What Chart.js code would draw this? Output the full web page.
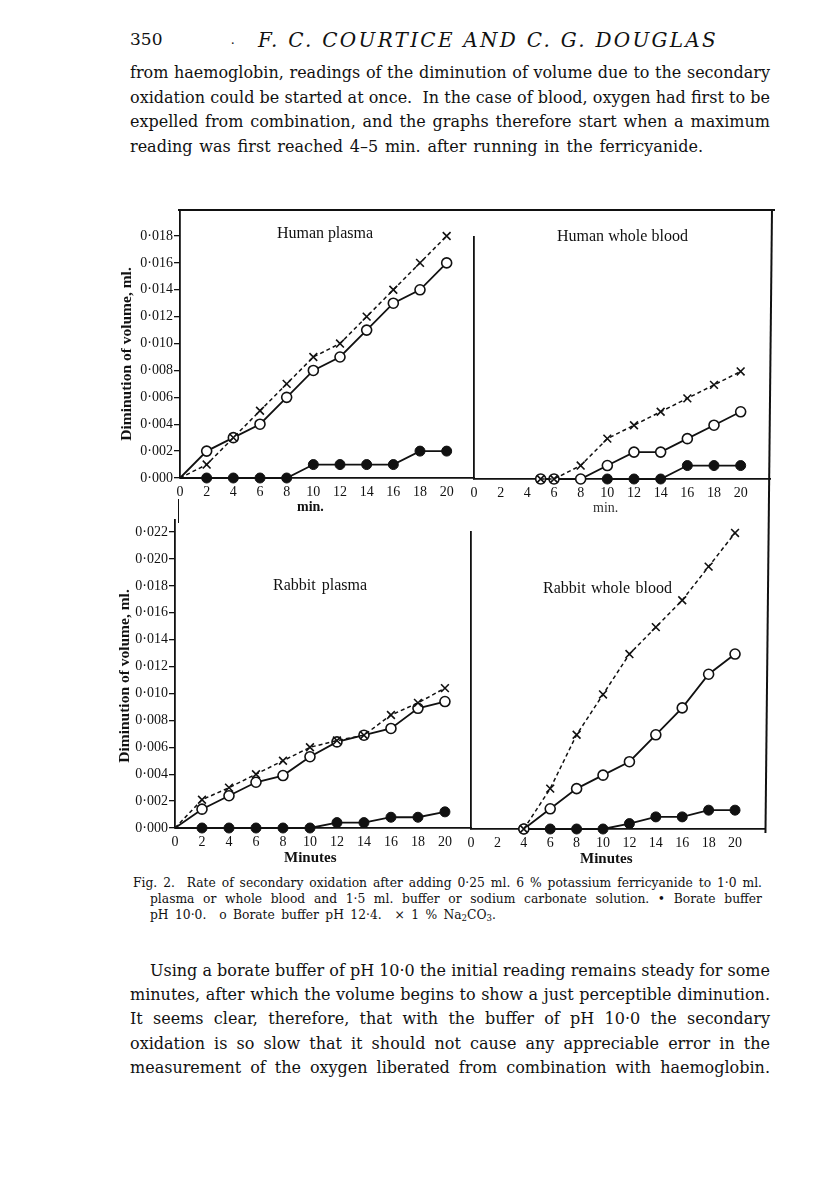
<!DOCTYPE html>
<html><head><meta charset="utf-8">
<script src="https://cdn.jsdelivr.net/npm/chart.js@4.4.0/dist/chart.umd.min.js"></script>
<style>
html,body{margin:0;padding:0;background:#fff}
body{width:816px;height:1199px;position:relative;overflow:hidden;font-family:"Liberation Serif","Times New Roman",serif;color:#111}
.t{position:absolute;white-space:nowrap;line-height:1}
.p{font-family:"DejaVu Serif",serif;font-size:16px}
.c{font-family:"DejaVu Serif",serif;font-size:12.3px}
.pt{font-size:16px}
.rot{position:absolute;white-space:nowrap;line-height:1;font-weight:bold;font-size:15.5px;transform:translate(-50%,-50%) rotate(-90deg)}
.ln{position:absolute;background:#111}
canvas{position:absolute}
sub{font-size:70%;line-height:0;vertical-align:-0.25em}
</style></head><body>

<div class="t" style="left:130px;top:31px;font-size:17px;font-family:'DejaVu Serif',serif">350</div>
<div class="t" style="left:231px;top:33px;font-size:14px">.</div>
<div class="t" data-w="460" data-fit="ls" style="left:258px;top:30px;font-size:20px;font-style:italic;font-family:'DejaVu Serif',serif">F. C. COURTICE AND C. G. DOUGLAS</div>

<div class="t p" data-w="640" style="left:130px;top:65px">from haemoglobin, readings of the diminution of volume due to the secondary</div>
<div class="t p" data-w="640" style="left:130px;top:90px">oxidation could be started at once.&nbsp; In the case of blood, oxygen had first to be</div>
<div class="t p" data-w="640" style="left:130px;top:114px">expelled from combination, and the graphs therefore start when a maximum</div>
<div class="t p" data-w="573" style="left:130px;top:139px">reading was first reached 4–5 min. after running in the ferricyanide.</div>

<!-- figure frame -->
<div class="ln" style="left:178px;top:209px;width:597px;height:1.5px"></div>
<div class="ln" style="left:771px;top:209px;width:1.6px;height:624px;transform-origin:top left;transform:rotate(0.6deg)"></div>
<div class="ln" style="left:177.5px;top:499px;width:1.6px;height:24px"></div>

<canvas id="hp"></canvas>
<canvas id="hwb"></canvas>
<canvas id="rp"></canvas>
<canvas id="rwb"></canvas>

<div class="rot" style="left:126px;top:354px">Diminution of volume, ml.</div>
<div class="rot" style="left:124px;top:676px">Diminution of volume, ml.</div>

<div class="t pt" data-w="96" style="left:277px;top:225px">Human plasma</div>
<div class="t pt" data-w="131" style="left:557px;top:228px">Human whole blood</div>
<div class="t pt" data-w="94" style="left:273px;top:577px">Rabbit plasma</div>
<div class="t pt" data-w="129" style="left:543px;top:580px">Rabbit whole blood</div>

<div class="t" style="left:297px;top:500px;font-size:14px;font-weight:bold">min.</div>
<div class="t" style="left:593px;top:501px;font-size:14px;color:#333">min.</div>
<div class="t" style="left:284px;top:850px;font-size:15px;font-weight:bold">Minutes</div>
<div class="t" style="left:580px;top:851px;font-size:15px;font-weight:bold">Minutes</div>

<div class="t c" data-w="629" style="left:133px;top:877px">Fig. 2.&nbsp; Rate of secondary oxidation after adding 0·25 ml. 6 % potassium ferricyanide to 1·0 ml.</div>
<div class="t c" data-w="612" style="left:150px;top:893px">plasma or whole blood and 1·5 ml. buffer or sodium carbonate solution. • Borate buffer</div>
<div class="t c" data-w="346" style="left:150px;top:909px">pH 10·0.&nbsp; o Borate buffer pH 12·4.&nbsp; × 1 % Na<sub>2</sub>CO<sub>3</sub>.</div>

<div class="t p" data-w="620" style="left:150px;top:963px">Using a borate buffer of pH 10·0 the initial reading remains steady for some</div>
<div class="t p" data-w="640" style="left:130px;top:987px">minutes, after which the volume begins to show a just perceptible diminution.</div>
<div class="t p" data-w="640" style="left:130px;top:1011px">It seems clear, therefore, that with the buffer of pH 10·0 the secondary</div>
<div class="t p" data-w="640" style="left:130px;top:1036px">oxidation is so slow that it should not cause any appreciable error in the</div>
<div class="t p" data-w="640" style="left:130px;top:1060px">measurement of the oxygen liberated from combination with haemoglobin.</div>

<script>
// ---------- data ----------
const minutes = [0, 2, 4, 6, 8, 10, 12, 14, 16, 18, 20];
const xTickValues = [0, 2, 4, 6, 8, 10, 12, 14, 16, 18, 20];
const yTicksHuman = [0, 0.002, 0.004, 0.006, 0.008, 0.010, 0.012, 0.014, 0.016, 0.018];
const yTicksRabbit = [0, 0.002, 0.004, 0.006, 0.008, 0.010, 0.012, 0.014, 0.016, 0.018, 0.020, 0.022];

// Human plasma
const hpBorate10  = [0, 0, 0, 0, 0, 0.001, 0.001, 0.001, 0.001, 0.002, 0.002];
const hpBorate124 = [0, 0.002, 0.003, 0.004, 0.006, 0.008, 0.009, 0.011, 0.013, 0.014, 0.016];
const hpCarbonate = [0, 0.001, 0.003, 0.005, 0.007, 0.009, 0.010, 0.012, 0.014, 0.016, 0.018];

// Human whole blood
const hwbMinutes   = [5, 6, 8, 10, 12, 14, 16, 18, 20];
const hwbBorate10  = [null, null, null, 0, 0, 0, 0.001, 0.001, 0.001];
const hwbBorate124 = [0, 0, 0, 0.001, 0.002, 0.002, 0.003, 0.004, 0.005];
const hwbCarbonate = [0, 0, 0.001, 0.003, 0.004, 0.005, 0.006, 0.007, 0.008];

// Rabbit plasma
const rpBorate10  = [0, 0, 0, 0, 0, 0, 0.0004, 0.0004, 0.0008, 0.0008, 0.0012];
const rpBorate124 = [0, 0.0014, 0.0024, 0.0034, 0.0039, 0.0053, 0.0064, 0.0069, 0.0074, 0.0089, 0.0094];
const rpCarbonate = [0, 0.0021, 0.0030, 0.0040, 0.0050, 0.0060, 0.0065, 0.0069, 0.0084, 0.0093, 0.0104];

// Rabbit whole blood
const rwbMinutes   = [4, 6, 8, 10, 12, 14, 16, 18, 20];
const rwbBorate10  = [0, 0, 0, 0, 0.0004, 0.0009, 0.0009, 0.0014, 0.0014];
const rwbBorate124 = [0, 0.0015, 0.0030, 0.0040, 0.0050, 0.0070, 0.0090, 0.0115, 0.0130];
const rwbCarbonate = [0, 0.0030, 0.0070, 0.0100, 0.0130, 0.0150, 0.0170, 0.0195, 0.0220];

// ---------- text fitting ----------
document.querySelectorAll('[data-w]').forEach(el => {
  const target = +el.dataset.w;
  const w = el.getBoundingClientRect().width;
  const txt = el.textContent;
  const n = (txt.match(/[ \u00a0]/g) || []).length;
  const extra = target - w;
  if (el.dataset.fit === 'ls' || n === 0 || extra < 0) {
    el.style.letterSpacing = (extra / txt.length) + 'px';
  } else {
    el.style.wordSpacing = (extra / n) + 'px';
  }
});

// ---------- charts ----------
const INK = '#111';
const FONT = "'Liberation Serif', 'Times New Roman', serif";

function pts(xs, ys) {
  const out = [];
  xs.forEach((x, i) => { if (ys[i] !== null && ys[i] !== undefined) out.push({ x: x, y: ys[i] }); });
  return out;
}
const hideOrigin = (r) => ctx => (ctx.raw && ctx.raw.x === 0) ? 0 : r;

function series(xs, b10, b124, carb) {
  return [
    { label: '1% Na2CO3', data: pts(xs, carb), borderColor: INK, borderWidth: 1.5, borderDash: [4, 3],
      pointStyle: 'crossRot', pointRadius: hideOrigin(5.5), pointBorderColor: INK,
      pointBorderWidth: 1.6, clip: false },
    { label: 'Borate buffer pH 12·4', data: pts(xs, b124), borderColor: INK, borderWidth: 1.8,
      pointStyle: 'circle', pointRadius: hideOrigin(5), pointBackgroundColor: '#fff',
      pointBorderColor: INK, pointBorderWidth: 1.6, clip: false },
    { label: 'Borate buffer pH 10·0', data: pts(xs, b10), borderColor: INK, borderWidth: 1.8,
      pointStyle: 'circle', pointRadius: hideOrigin(5), pointBackgroundColor: INK,
      pointBorderColor: INK, pointBorderWidth: 1, clip: false }
  ];
}

const panels = [
  { id: 'hp',  left: 180, right: 474, top: 210, bottom: 478, xMax: 22.05, yMax: 0.019934, yLabels: true,
    yTicks: yTicksHuman, datasets: series(minutes, hpBorate10, hpBorate124, hpCarbonate) },
  { id: 'hwb', left: 474, right: 770, top: 237, bottom: 479, xMax: 22.2, yMax: 0.018, yLabels: false,
    yTicks: yTicksHuman, datasets: series(hwbMinutes, hwbBorate10, hwbBorate124, hwbCarbonate) },
  { id: 'rp',  left: 175, right: 471, top: 520, bottom: 828, xMax: 21.93, yMax: 0.0229, yLabels: true,
    yTicks: yTicksRabbit, datasets: series(minutes, rpBorate10, rpBorate124, rpCarbonate) },
  { id: 'rwb', left: 471, right: 765, top: 532, bottom: 829, xMax: 22.27, yMax: 0.02207, yLabels: false,
    yTicks: yTicksRabbit, datasets: series(rwbMinutes, rwbBorate10, rwbBorate124, rwbCarbonate) }
];

panels.forEach(p => {
  const padL = p.yLabels ? 0 : 10;
  const yW = p.yLabels ? 70 : 0;
  const cw = padL + yW + (p.right - p.left) + 10;
  const ch = 10 + (p.bottom - p.top) + 30;
  const cv = document.getElementById(p.id);
  cv.width = cw; cv.height = ch;
  cv.style.width = cw + 'px'; cv.style.height = ch + 'px';
  cv.style.left = (p.left - padL - yW) + 'px';
  cv.style.top = (p.top - 10) + 'px';

  new Chart(cv, {
    type: 'line',
    data: { datasets: p.datasets },
    options: {
      responsive: false, maintainAspectRatio: false, animation: false, devicePixelRatio: 1,
      layout: { padding: { left: padL, top: 10, right: 10, bottom: 0 } },
      plugins: { legend: { display: false }, tooltip: { enabled: false } },
      elements: { line: { tension: 0 } },
      scales: {
        x: {
          type: 'linear', min: 0, max: p.xMax,
          afterBuildTicks: s => { s.ticks = xTickValues.map(v => ({ value: v })); },
          afterFit: s => { s.height = 30; },
          grid: { display: false, drawOnChartArea: false, drawTicks: false },
          border: { display: true, color: INK, width: 1.8 },
          ticks: { color: INK, padding: 6, font: { family: FONT, size: 14 }, maxRotation: 0, autoSkip: false,
                   callback: v => String(v) }
        },
        y: {
          type: 'linear', min: 0, max: p.yMax,
          afterBuildTicks: s => { s.ticks = p.yTicks.map(v => ({ value: v })); },
          afterFit: s => { s.width = yW; },
          grid: { display: p.yLabels, drawOnChartArea: false, drawTicks: p.yLabels, tickLength: 6,
                  color: INK, lineWidth: 1.3 },
          border: { display: true, color: INK, width: 1.8 },
          ticks: { display: p.yLabels, color: INK, padding: 1, font: { family: FONT, size: 14 },
                   autoSkip: false, callback: v => Number(v).toFixed(3).replace('.', '·') }
        }
      }
    }
  });
});
</script>
</body></html>
